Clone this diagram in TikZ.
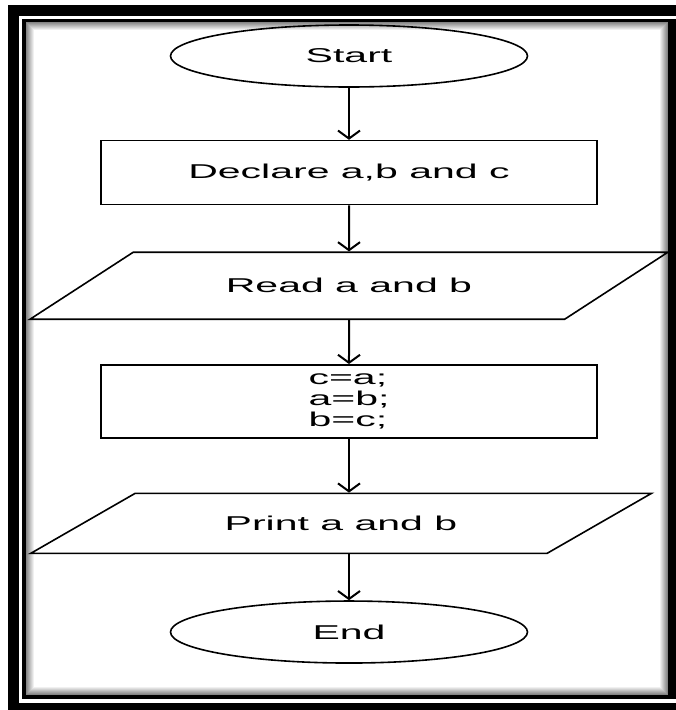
\documentclass[tikz,border=0pt]{standalone}
\usepackage{fontspec}
\setmainfont{Liberation Sans}
\usepackage{graphicx}
\usetikzlibrary{arrows.meta, positioning, shapes.geometric}
\tikzset{
  term/.style={ellipse, draw, line width=1.6pt, minimum width=357pt, minimum height=62pt,
               inner sep=0pt, font=\fontsize{20}{21}\selectfont},
  proc/.style={rectangle, draw, line width=1.6pt, minimum width=496pt,
               inner sep=0pt, font=\fontsize{20}{21}\selectfont},
  io/.style={trapezium, trapezium left angle=14, trapezium right angle=166,
             trapezium stretches=true, draw, line width=1.6pt,
             inner sep=0pt, font=\fontsize{20}{21}\selectfont},
  flow/.style={-{Straight Barb[length=8pt, width=22pt]}, line width=2pt},
}
\newcommand{\wide}[1]{\scalebox{2.05}[1]{#1}}

\begin{document}
\begin{tikzpicture}[x=1pt, y=-1pt, node distance=46pt]
  % frame
  \useasboundingbox (0,0) rectangle (676,710);
  \clip (0,0) rectangle (676,710);
  \fill (8,5) rectangle (690,720);
  \fill[white] (19,16) rectangle (680,703);
  \fill (22,19) rectangle (678,699);
  \fill[white] (26,22) rectangle (668,695);
  \foreach \i [evaluate=\i as \g using int(48-6*\i)] in {0,...,7}
    \draw[line width=1pt, black!\g] ({26.5+\i},{22.5+\i}) rectangle ({667.5-\i},{694.5-\i});

  \node (start) [term] at (349,56) {\wide{Start}};
  \node (decl)  [proc, minimum height=64pt, below=52pt of start] {\wide{Declare a,b and c}};
  \node (read)  [io, minimum width=638pt, minimum height=67pt, below=of decl] {\wide{Read a and b}};
  \node (swap)  [proc, minimum height=73pt, below=44pt of read]
        {\wide{\begin{tabular}{@{}l@{}}c=a;\\a=b;\\b=c;\end{tabular}}};
  \node (print) [io, minimum width=621pt, minimum height=60pt, below=54pt of swap, xshift=-8pt] {\wide{Print a and b}};
  \node (stop)  [term, below=of print, xshift=8pt] {\wide{End}};
  \draw[flow] (start) -- (decl); \draw[flow] (decl) -- (read); \draw[flow] (read) -- (swap);
  \draw[flow] (swap) -- (swap |- print.north);
  \draw[flow] (stop |- print.south) -- (stop);
\end{tikzpicture}
\end{document}
